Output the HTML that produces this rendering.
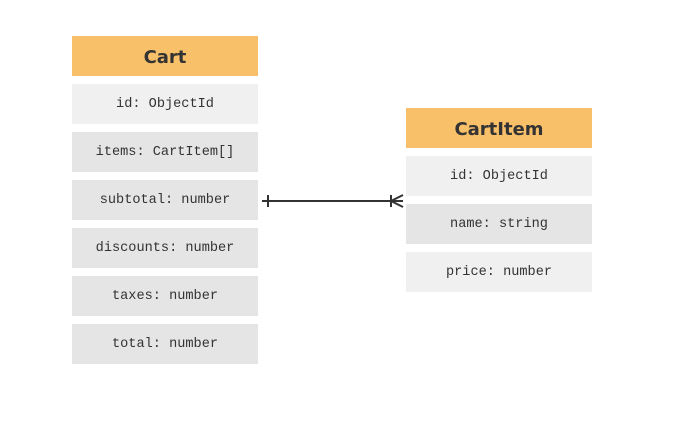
<!DOCTYPE html>
<html><head><meta charset="utf-8"><style>
html,body{margin:0;padding:0;background:#fff;width:677px;height:438px;overflow:hidden;position:relative}
.b{position:absolute;width:186px;height:40px;display:flex;align-items:center;justify-content:center;font-family:"Liberation Mono",monospace;font-size:13.6px;color:#333}
.h{background:#f9c06a;font-family:"DejaVu Sans","Liberation Sans",sans-serif;font-weight:bold;font-size:18px;color:#333;box-sizing:border-box;padding-top:3px}
.l{background:#f0f0f0}.d{background:#e5e5e5}
</style></head><body>
<div class="b h" style="left:72px;top:36px">Cart</div>
<div class="b l" style="left:72px;top:84px">id: ObjectId</div>
<div class="b d" style="left:72px;top:132px">items: CartItem[]</div>
<div class="b d" style="left:72px;top:180px">subtotal: number</div>
<div class="b d" style="left:72px;top:228px">discounts: number</div>
<div class="b d" style="left:72px;top:276px">taxes: number</div>
<div class="b d" style="left:72px;top:324px">total: number</div>
<div class="b h" style="left:406px;top:108px">CartItem</div>
<div class="b l" style="left:406px;top:156px">id: ObjectId</div>
<div class="b d" style="left:406px;top:204px">name: string</div>
<div class="b l" style="left:406px;top:252px">price: number</div>
<svg width="677" height="438" style="position:absolute;left:0;top:0">
<g stroke="#333" stroke-width="2" fill="none">
<line x1="262" y1="201" x2="403" y2="201"/>
<line x1="268" y1="195" x2="268" y2="207"/>
<line x1="391" y1="195" x2="391" y2="207"/>
<polyline points="403,195 391,201 403,207"/>
</g></svg>
</body></html>
